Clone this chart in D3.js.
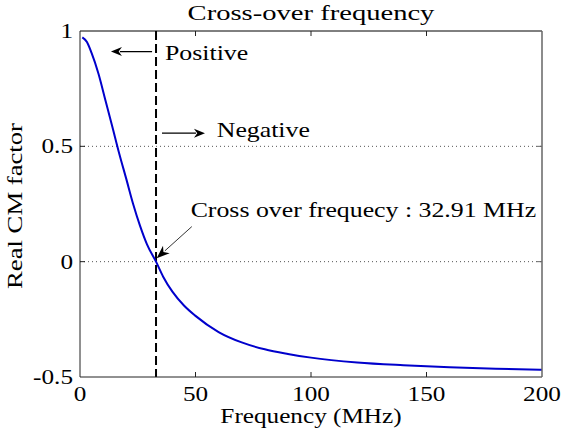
<!DOCTYPE html>
<html><head><meta charset="utf-8">
<script src="https://cdn.jsdelivr.net/npm/d3@7"></script>
<style>
html,body{margin:0;padding:0;background:#fff;}
text{font-family:"Liberation Serif","Times New Roman",serif;fill:#000;}
</style></head>
<body><div id="chart"></div>
<script>
// ---- data ----
const freqMHz = [1,3,5,8,11,14,17,20,23,26,29,32.91,36,40,45,50,60,70,80,90,100,120,140,160,180,200];
const realCM  = [0.972,0.952,0.905,0.815,0.70,0.585,0.468,0.36,0.25,0.155,0.075,0.0,-0.065,-0.13,-0.19,-0.235,-0.305,-0.35,-0.38,-0.40,-0.416,-0.437,-0.449,-0.458,-0.464,-0.469];
const crossOver = 32.91;
const xTicks = [0,50,100,150,200];
const yTicks = [-0.5,0,0.5,1];
const yTickLabels = ["-0.5","0","0.5","1"];
const gridY = [0,0.5];
const title = "Cross-over frequency";
const xLabel = "Frequency (MHz)";
const yLabel = "Real CM factor";
const annotTexts = ["Positive","Negative","Cross over frequecy : 32.91 MHz"];
const annotTextPos = [[36.8,0.876],[59.2,0.539],[47.9,0.192]];
const annotArrows = [[[31.2,0.911],[13.4,0.911]],[[35.5,0.557],[54.1,0.557]],[[48.4,0.152],[33.2,0.015]]];

// ---- layout ----
const W=570,H=439;
const L=80,R=542,T=31,B=377;
const FS=20.5, SX=1.23;

const svg=d3.select("#chart").append("svg").attr("width",W).attr("height",H);
svg.append("rect").attr("width",W).attr("height",H).attr("fill","#fff");

const x=d3.scaleLinear().domain([0,200]).range([L,R]);
const y=d3.scaleLinear().domain([-0.5,1]).range([B,T]);

// grid
svg.selectAll(".grid").data(gridY).enter().append("line")
  .attr("x1",L).attr("x2",R).attr("y1",d=>y(d)).attr("y2",d=>y(d))
  .attr("stroke","#555").attr("stroke-width",1).attr("stroke-dasharray","1,3");

// dashed crossover line
svg.append("line").attr("x1",x(crossOver)).attr("x2",x(crossOver))
  .attr("y1",y(1)).attr("y2",y(-0.5)).attr("stroke","#000").attr("stroke-width",2)
  .attr("stroke-dasharray","9,4");

// curve
const line=d3.line().x((d,i)=>x(freqMHz[i])).y(d=>y(d)).curve(d3.curveMonotoneX);
svg.append("path").datum(realCM).attr("d",line).attr("fill","none")
  .attr("stroke","#0000cc").attr("stroke-width",2);

// axes box with inward ticks
const tl=5;
const ax=svg.append("g");
ax.append("line").attr("x1",L).attr("x2",R).attr("y1",T).attr("y2",T).attr("stroke","#000");
ax.append("line").attr("x1",L).attr("x2",R).attr("y1",B).attr("y2",B).attr("stroke","#222");
ax.append("line").attr("x1",L).attr("x2",L).attr("y1",T).attr("y2",B).attr("stroke","#222");
ax.append("line").attr("x1",R).attr("x2",R).attr("y1",T).attr("y2",B).attr("stroke","#666").attr("stroke-width",1.5);
const innerX=xTicks.slice(1,-1), innerY=yTicks.slice(1,-1);
innerX.forEach(v=>{
  ax.append("line").attr("x1",x(v)).attr("x2",x(v)).attr("y1",B).attr("y2",B-tl).attr("stroke","#222");
  ax.append("line").attr("x1",x(v)).attr("x2",x(v)).attr("y1",T).attr("y2",T+tl).attr("stroke","#222");
});
innerY.forEach(v=>{
  ax.append("line").attr("x1",L).attr("x2",L+tl).attr("y1",y(v)).attr("y2",y(v)).attr("stroke","#222");
  ax.append("line").attr("x1",R).attr("x2",R-tl).attr("y1",y(v)).attr("y2",y(v)).attr("stroke","#666");
});

function txt(px,py,s,anchor,rot,fs,sx){
  const g=svg.append("g").attr("transform",`translate(${px},${py})`+(rot?` rotate(${rot})`:"")+` scale(${sx||SX},1)`);
  g.append("text").attr("text-anchor",anchor).attr("font-size",fs||FS).text(s);
  return g;
}
// tick labels
xTicks.forEach(v=>txt(x(v),401,String(v),"middle"));
yTicks.forEach((v,i)=>txt(L-7,y(v)+7,yTickLabels[i],"end"));

// titles
txt((L+R)/2,20,title,"middle",0,21.5,1.33);
txt((L+R)/2,423,xLabel,"middle");
txt(22,(T+B)/2+2,yLabel,"middle",-90,21,1.27);

// annotations
annotTexts.forEach((s,i)=>txt(x(annotTextPos[i][0]),y(annotTextPos[i][1]),s,"start",0,FS,1.26));

function arrow(p0,p1,w,hl,hw){
  const x0=x(p0[0]),y0=y(p0[1]),x1=x(p1[0]),y1=y(p1[1]);
  const dx=x1-x0,dy=y1-y0,len=Math.hypot(dx,dy),ux=dx/len,uy=dy/len;
  const bx=x1-ux*hl,by=y1-uy*hl;
  svg.append("line").attr("x1",x0).attr("y1",y0).attr("x2",bx+ux*2).attr("y2",by+uy*2)
    .attr("stroke","#000").attr("stroke-width",w);
  const px=-uy,py=ux;
  const notch=hl*0.7;
  svg.append("path").attr("d",`M${x1},${y1}L${bx+px*hw},${by+py*hw}L${x1-ux*notch},${y1-uy*notch}L${bx-px*hw},${by-py*hw}Z`)
    .attr("fill","#000");
}
arrow(annotArrows[0][0],annotArrows[0][1],1.3,11,4.5);
arrow(annotArrows[1][0],annotArrows[1][1],1.3,11,4.5);
arrow(annotArrows[2][0],annotArrows[2][1],0.8,13,5);
</script></body></html>
